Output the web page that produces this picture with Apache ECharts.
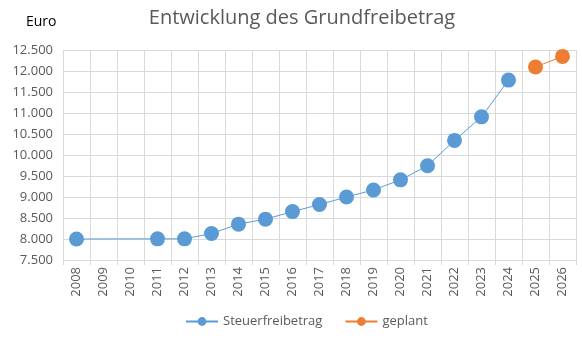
<!DOCTYPE html>
<html>
<head>
<meta charset="utf-8">
<script src="https://cdn.jsdelivr.net/npm/echarts@6/dist/echarts.min.js"></script>
<style>
  html, body { margin: 0; padding: 0; background: #fff; }
  #chart { width: 582px; height: 338px; }
</style>
</head>
<body>
<div id="chart"></div>
<script>
// Years on the category axis
const years = ['2008','2009','2010','2011','2012','2013','2014','2015','2016','2017',
               '2018','2019','2020','2021','2022','2023','2024','2025','2026'];
// Grundfreibetrag in Euro (no values recorded for 2009 and 2010)
const steuerfreibetrag = [8000, null, null, 8004, 8004, 8130, 8354, 8472, 8652, 8820,
                          9000, 9168, 9408, 9744, 10347, 10908, 11784, null, null];
// Planned values
const geplant = [null, null, null, null, null, null, null, null, null, null,
                 null, null, null, null, null, null, null, 12096, 12348];

const FONT = '"Open Sans", "Liberation Sans", sans-serif';
const fmt = v => String(v).replace(/\B(?=(\d{3})+(?!\d))/g, '.');

const chart = echarts.init(document.getElementById('chart'));
chart.setOption({
  animation: false,
  title: [
    { text: 'Entwicklung des Grundfreibetrag', left: 297, top: 3, textAlign: 'center',
      textStyle: { fontFamily: FONT, fontSize: 20, fontWeight: 'normal', color: '#595959' } },
    { text: 'Euro', left: 21, top: 10,
      textStyle: { fontFamily: FONT, fontSize: 14, fontWeight: 'normal', color: '#000' } }
  ],
  grid: { left: 63, right: 6, top: 50, bottom: 78, containLabel: false },
  legend: {
    bottom: 5, left: 180, itemGap: 22, itemWidth: 32, itemHeight: 11,
    textStyle: { fontFamily: FONT, fontSize: 13, color: '#595959' },
    data: ['Steuerfreibetrag', 'geplant']
  },
  xAxis: {
    type: 'category', data: years, boundaryGap: true,
    axisLine: { lineStyle: { color: '#d9d9d9' } },
    axisTick: { show: true, length: 5, lineStyle: { color: '#d9d9d9' } },
    axisLabel: { rotate: 90, interval: 0, fontFamily: FONT, fontSize: 13, color: '#595959', margin: 7 },
    splitLine: { show: true, lineStyle: { color: '#d9d9d9' } }
  },
  yAxis: {
    type: 'value', min: 7500, max: 12500, interval: 500,
    axisLine: { show: false }, axisTick: { show: false },
    axisLabel: { formatter: fmt, fontFamily: FONT, fontSize: 13, color: '#595959', margin: 10 },
    splitLine: { lineStyle: { color: '#d9d9d9' } }
  },
  series: [
    { name: 'Steuerfreibetrag', type: 'line', data: steuerfreibetrag, connectNulls: true,
      symbol: 'circle', symbolSize: 15, color: '#5B9BD5',
      lineStyle: { width: 1, color: '#5B9BD5' }, itemStyle: { color: '#5B9BD5' } },
    { name: 'geplant', type: 'line', data: geplant,
      symbol: 'circle', symbolSize: 15, color: '#ED7D31',
      lineStyle: { width: 1, color: '#ED7D31' }, itemStyle: { color: '#ED7D31' } }
  ]
});
</script>
</body>
</html>
